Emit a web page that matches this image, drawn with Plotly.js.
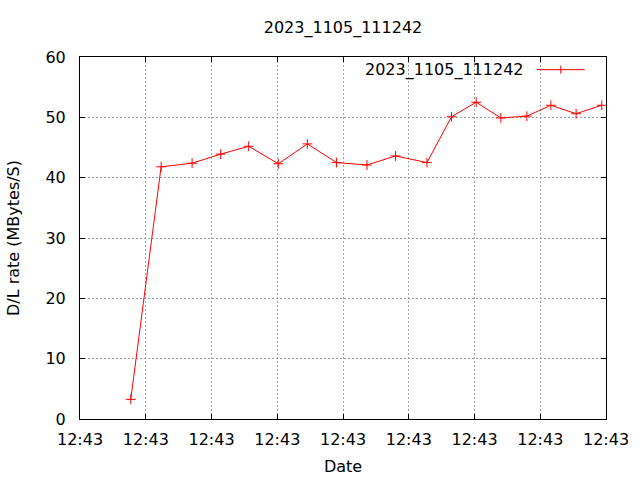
<!DOCTYPE html>
<html>
<head>
<meta charset="utf-8">
<script src="https://cdn.plot.ly/plotly-3.0.1.min.js"></script>
<style>html,body{margin:0;padding:0;background:#fff;}#chart{width:640px;height:480px;}</style>
</head>
<body>
<div id="chart"></div>
<script>
var seriesName = '2023_1105_111242';
var times = [
  '2023-11-05 12:43:01.544', '2023-11-05 12:43:02.468', '2023-11-05 12:43:03.410',
  '2023-11-05 12:43:04.280', '2023-11-05 12:43:05.131', '2023-11-05 12:43:06.033',
  '2023-11-05 12:43:06.915', '2023-11-05 12:43:07.805', '2023-11-05 12:43:08.729',
  '2023-11-05 12:43:09.599', '2023-11-05 12:43:10.553', '2023-11-05 12:43:11.301',
  '2023-11-05 12:43:12.052', '2023-11-05 12:43:12.802', '2023-11-05 12:43:13.593',
  '2023-11-05 12:43:14.322', '2023-11-05 12:43:15.091', '2023-11-05 12:43:15.872'
];
var rates = [3.25, 41.8, 42.4, 43.9, 45.2, 42.3, 45.6, 42.5, 42.1, 43.6, 42.5, 50.1, 52.5, 49.9, 50.2, 52.0, 50.6, 52.0];
var xRange = ['2023-11-05 12:43:00', '2023-11-05 12:43:16'];
var yRange = [0, 60];

var font = {family: 'DejaVu Sans, sans-serif', size: 16, color: '#000'};

var trace = {
  x: times, y: rates, type: 'scatter', mode: 'lines+markers', name: seriesName,
  line: {color: '#ff0000', width: 1},
  marker: {symbol: 'cross-thin', size: 7, color: '#ff0000', line: {color: '#ff0000', width: 1}},
  showlegend: false
};

// legend (gnuplot style: text left of sample)
var ly = 0.965;
var layout = {
  width: 640, height: 480,
  margin: {l: 80, r: 34, t: 57, b: 61},
  paper_bgcolor: '#fff', plot_bgcolor: '#fff',
  font: font,
  title: {text: seriesName, font: font, xref: 'paper', x: 0.5, xanchor: 'center', yref: 'container', y: 1 - 27/480, yanchor: 'middle'},
  xaxis: {
    type: 'date', range: xRange, tick0: xRange[0], dtick: 2000, tickformat: '%H:%M',
    showgrid: true, gridcolor: '#a0a0a0', griddash: '2px,2px', gridwidth: 1,
    showline: true, linecolor: '#000', linewidth: 1, mirror: 'ticks',
    ticks: 'inside', ticklen: 5, tickcolor: '#000', tickfont: font,
    ticklabelstandoff: 6,
    zeroline: false, fixedrange: true,
    title: {text: 'Date', font: font, standoff: 12}
  },
  yaxis: {
    range: yRange, dtick: 10, tick0: 0,
    showgrid: true, gridcolor: '#a0a0a0', griddash: '2px,2px', gridwidth: 1,
    showline: true, linecolor: '#000', linewidth: 1, mirror: 'ticks',
    ticks: 'inside', ticklen: 5, tickcolor: '#000', tickfont: font,
    ticklabelstandoff: 10,
    zeroline: false, fixedrange: true,
    title: {text: 'D/L rate (MBytes/S)', font: font, standoff: 21}
  },
  annotations: [{
    xref: 'paper', yref: 'paper', x: (526 - 79.5) / 526.8, y: ly, xanchor: 'right', yanchor: 'middle',
    text: seriesName, showarrow: false, font: font
  }],
  shapes: [
    {type: 'line', xref: 'paper', yref: 'paper', x0: (537 - 79.5) / 526.8, x1: (585 - 79.5) / 526.8, y0: ly, y1: ly, line: {color: '#ff0000', width: 1}},
    {type: 'line', xref: 'paper', yref: 'paper', x0: (561 - 79.5) / 526.8, x1: (561 - 79.5) / 526.8, y0: ly - 4/362, y1: ly + 4/362, line: {color: '#ff0000', width: 1}}
  ]
};

Plotly.newPlot('chart', [trace], layout, {displayModeBar: false, staticPlot: true});
</script>
</body>
</html>
